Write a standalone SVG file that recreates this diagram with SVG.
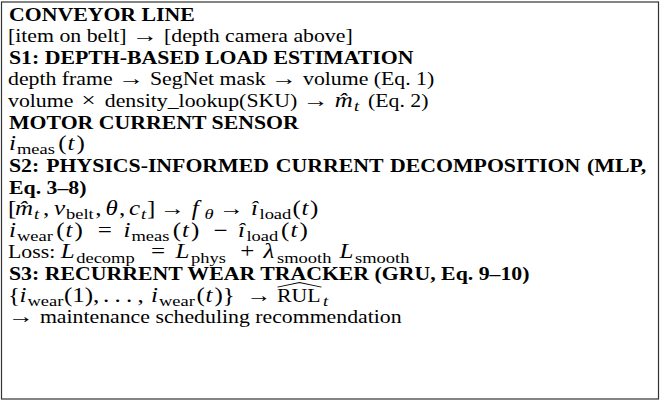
<svg xmlns="http://www.w3.org/2000/svg" width="660" height="401" viewBox="0 0 660 401">
  <style>
    text { font-family: "Liberation Serif", "DejaVu Serif", serif; font-size: 21.8px; fill: #000; }
    .b { font-weight: bold; }
    .m { font-size: 25px; font-style: italic; }
    .r { font-size: 25px; }
    .s { font-size: 18.5px; }
    .si { font-size: 18.5px; font-style: italic; }
    .ar { font-size: 25px; }
    .frame { fill: #fff; stroke: #333; stroke-width: 1.2; }
    .hat { fill: none; stroke: #000; stroke-width: 1.1; }
  </style>

  <!-- outer frame -->
  <rect class="frame" x="1.5" y="2" width="657" height="397"/>

  <!-- text block, laid out on a 26.2 px line pitch and compressed vertically -->
  <g transform="scale(1,0.825)">
    <g id="conveyor-line">
      <text class="b" x="9" y="25">CONVEYOR LINE</text>
      <text x="8" y="51.2">[item on belt]</text>
      <text class="ar" x="132" y="51.2" textLength="26" lengthAdjust="spacingAndGlyphs">→</text>
      <text x="164" y="51.2">[depth camera above]</text>
    </g>

    <g id="s1-load-estimation">
      <text class="b" x="9" y="77.4">S1: DEPTH-BASED LOAD ESTIMATION</text>
      <text x="8" y="103.6">depth frame</text>
      <text class="ar" x="118.2" y="103.6" textLength="26" lengthAdjust="spacingAndGlyphs">→</text>
      <text x="150" y="103.6">SegNet mask</text>
      <text class="ar" x="271.1" y="103.6" textLength="26" lengthAdjust="spacingAndGlyphs">→</text>
      <text x="303" y="103.6">volume (Eq. 1)</text>

      <text x="8" y="129.8">volume</text>
      <text class="r" x="81.5" y="129.8">×</text>
      <text x="104.8" y="129.8">density_lookup(SKU)</text>
      <text class="ar" x="302.8" y="129.8" textLength="26" lengthAdjust="spacingAndGlyphs">→</text>
      <text y="129.8"><tspan class="m" x="334.7">m̂</tspan><tspan class="si" x="354" y="134.8">t</tspan><tspan x="368" y="129.8">(Eq. 2)</tspan></text>
    </g>

    <g id="motor-current-sensor">
      <text class="b" x="9" y="156">MOTOR CURRENT SENSOR</text>
      <text y="182.2"><tspan class="m" x="9">i</tspan><tspan class="s" x="17" y="187.2">meas</tspan><tspan class="r" x="58.3" y="182.2">(</tspan><tspan class="m" x="67.5">t</tspan><tspan class="r" x="76.5">)</tspan></text>
    </g>

    <g id="s2-current-decomposition">
      <text class="b" x="9" y="208.4" word-spacing="1.5">S2: PHYSICS-INFORMED CURRENT DECOMPOSITION (MLP,</text>
      <text class="b" x="9" y="234.6">Eq. 3–8)</text>

      <!-- [m_t, v_belt, theta, c_t] -> f_theta -> i_load(t) -->
      <text y="260.8"><tspan class="r" x="8">[</tspan><tspan class="m" x="15">m̂</tspan><tspan class="si" x="34" y="265.8">t</tspan><tspan class="r" x="43" y="260.8">,</tspan><tspan class="m" x="54">v</tspan><tspan class="s" x="66" y="265.8">belt</tspan><tspan class="r" x="95.3" y="260.8">,</tspan><tspan class="m" x="105.5">θ</tspan><tspan class="r" x="119">,</tspan><tspan class="m" x="129">c</tspan><tspan class="si" x="141" y="265.8">t</tspan><tspan class="r" x="147" y="260.8">]</tspan><tspan class="m" x="191.8">f</tspan><tspan class="si" x="204.5" y="265.8">θ</tspan><tspan class="m" x="251" y="260.8">î</tspan><tspan class="s" x="259.5" y="265.8">load</tspan><tspan class="r" x="292.5" y="260.8">(</tspan><tspan class="m" x="301.5">t</tspan><tspan class="r" x="310">)</tspan></text>
      <text class="ar" x="160" y="260.8" textLength="25" lengthAdjust="spacingAndGlyphs">→</text>
      <text class="ar" x="219" y="260.8" textLength="25" lengthAdjust="spacingAndGlyphs">→</text>

      <!-- i_wear(t) = i_meas(t) - i_load(t) -->
      <text y="287"><tspan class="m" x="9">i</tspan><tspan class="s" x="17" y="292">wear</tspan><tspan class="r" x="56.2" y="287">(</tspan><tspan class="m" x="65.5">t</tspan><tspan class="r" x="74.5">)</tspan><tspan class="r" x="97.8">=</tspan><tspan class="m" x="123.4">i</tspan><tspan class="s" x="131.5" y="292">meas</tspan><tspan class="r" x="172.7" y="287">(</tspan><tspan class="m" x="182">t</tspan><tspan class="r" x="191">)</tspan><tspan class="r" x="213.4">−</tspan><tspan class="m" x="238.1">î</tspan><tspan class="s" x="246.5" y="292">load</tspan><tspan class="r" x="281.1" y="287">(</tspan><tspan class="m" x="290.4">t</tspan><tspan class="r" x="299.4">)</tspan></text>

      <!-- Loss: L_decomp = L_phys + lambda_smooth L_smooth -->
      <text y="313.2"><tspan x="8">Loss:</tspan><tspan class="m" x="60.7">L</tspan><tspan class="s" x="76.2" y="318.2">decomp</tspan><tspan class="r" x="150.9" y="313.2">=</tspan><tspan class="m" x="175.5">L</tspan><tspan class="s" x="191" y="318.2">phys</tspan><tspan class="r" x="240.2" y="313.2">+</tspan><tspan class="m" x="263.4">λ</tspan><tspan class="s" x="277" y="318.2">smooth</tspan><tspan class="m" x="339.5" y="313.2">L</tspan><tspan class="s" x="355" y="318.2">smooth</tspan></text>
    </g>

    <g id="s3-wear-tracker">
      <text class="b" x="9" y="339.4">S3: RECURRENT WEAR TRACKER (GRU, Eq. 9–10)</text>

      <!-- {i_wear(1), ..., i_wear(t)} -> RUL_t -->
      <text y="365.6"><tspan class="r" x="8">{</tspan><tspan class="m" x="19.5">i</tspan><tspan class="s" x="27.5" y="370.6">wear</tspan><tspan class="r" x="64" y="365.6">(1),</tspan><tspan class="r" x="103">.</tspan><tspan class="r" x="114.5">.</tspan><tspan class="r" x="126">.</tspan><tspan class="r" x="137.5">,</tspan><tspan class="m" x="151">i</tspan><tspan class="s" x="159" y="370.6">wear</tspan><tspan class="r" x="196.5" y="365.6">(</tspan><tspan class="m" x="205.5">t</tspan><tspan class="r" x="214.5">)}</tspan><tspan x="277">RUL</tspan><tspan class="si" x="323" y="370.6">t</tspan></text>
      <text class="ar" x="246.5" y="365.6" textLength="25" lengthAdjust="spacingAndGlyphs">→</text>
      <path class="hat" d="M277.5 348 L299.5 342.5 L321.5 348"/>

      <text class="ar" x="8" y="391.8" textLength="26" lengthAdjust="spacingAndGlyphs">→</text>
      <text x="39.9" y="391.8">maintenance scheduling recommendation</text>
    </g>
  </g>
</svg>
